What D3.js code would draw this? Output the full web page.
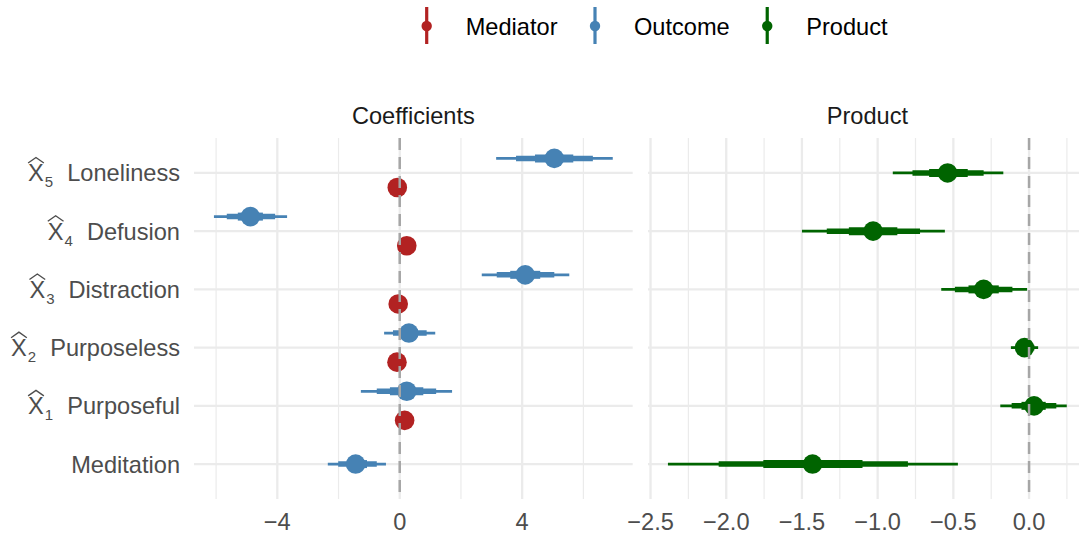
<!DOCTYPE html>
<html>
<head>
<meta charset="utf-8">
<script src="https://cdn.jsdelivr.net/npm/d3@7"></script>
<style>
  body { margin: 0; background: #fff; }
  text { font-family: "Liberation Sans", Arial, sans-serif; }
</style>
</head>
<body>
<div id="chart"></div>
<script>
// categories, bottom to top (index = hat subscript, null = plain label)
const terms = ["Meditation", "Purposeful", "Purposeless", "Distraction", "Defusion", "Loneliness"];
const termIndex = [null, 1, 2, 3, 4, 5];

// Coefficients panel: outcome estimates and 50/80/95% intervals
const outcomeEst = [-1.44, 0.23, 0.30, 4.10, -4.88, 5.05];
const outcome50 = [[-1.73, -1.07], [-0.32, 0.77], [0.01, 0.59], [3.61, 4.59], [-5.29, -4.47], [4.42, 5.67]];
const outcome80 = [[-2.01, -0.75], [-0.75, 1.19], [-0.22, 0.88], [3.17, 5.05], [-5.65, -4.07], [3.80, 6.31]];
const outcome95 = [[-2.35, -0.45], [-1.27, 1.71], [-0.51, 1.16], [2.68, 5.54], [-6.07, -3.68], [3.15, 6.96]];

// Coefficients panel: mediator estimates (none for Meditation)
const mediatorEst = [null, 0.16, -0.09, -0.05, 0.23, -0.08];
const mediator50 = [null, [0.09, 0.23], [-0.16, -0.02], [-0.12, 0.02], [0.16, 0.30], [-0.15, -0.01]];
const mediator80 = [null, [0.02, 0.30], [-0.23, 0.05], [-0.19, 0.09], [0.09, 0.37], [-0.22, 0.06]];
const mediator95 = [null, [-0.06, 0.38], [-0.31, 0.13], [-0.27, 0.17], [0.01, 0.45], [-0.30, 0.14]];

// Product panel
const productEst = [-1.43, 0.033, -0.03, -0.30, -1.03, -0.538];
const product50 = [[-1.755, -1.10], [-0.05, 0.11], [-0.06, 0.01], [-0.40, -0.20], [-1.19, -0.87], [-0.66, -0.405]];
const product80 = [[-2.05, -0.80], [-0.115, 0.18], [-0.085, 0.035], [-0.49, -0.11], [-1.336, -0.72], [-0.77, -0.30]];
const product95 = [[-2.385, -0.47], [-0.19, 0.249], [-0.12, 0.06], [-0.58, -0.013], [-1.50, -0.556], [-0.90, -0.17]];

// axis ticks
const leftMajor = [-4, 0, 4];
const leftMinor = [-6, -2, 2, 6];
const rightMajor = [-2.5, -2, -1.5, -1, -0.5, 0];
const rightMinor = [-2.25, -1.75, -1.25, -0.75, -0.25, 0.25];

const legendNames = ["Mediator", "Outcome", "Product"];
const colors = {Mediator: "#B22222", Outcome: "#4682B4", Product: "#006400"};

const W = 1079, H = 536;
const panelTop = 138, panelBottom = 499;
const fontSize = 23.6;

const svg = d3.select("#chart").append("svg")
    .attr("width", W).attr("height", H);

// y scale shared by both panels
const y = d3.scalePoint().domain(terms).range([panelBottom, panelTop]).padding(0.6);
const dodge = y.step() * 0.25;

// x scales with 5% expansion like ggplot
function expanded(lo, hi) {
  let pad = (hi - lo) * 0.05;
  return [lo - pad, hi + pad];
}
const leftVals = outcome95.flat().concat(mediator95.filter(d => d).flat());
const rightVals = product95.flat();
const xLeft = d3.scaleLinear().domain(expanded(d3.min(leftVals), d3.max(leftVals))).range([194, 632.7]);
const xRight = d3.scaleLinear().domain(expanded(d3.min(rightVals), d3.max(rightVals))).range([648, 1086.7]);

function drawGrid(g, x, major, minor) {
  let [x0, x1] = x.range();
  g.selectAll(".minor").data(minor).enter().append("line")
      .attr("x1", d => x(d)).attr("x2", d => x(d))
      .attr("y1", panelTop).attr("y2", panelBottom)
      .attr("stroke", "#EBEBEB").attr("stroke-width", 1.2);
  g.selectAll(".major").data(major).enter().append("line")
      .attr("x1", d => x(d)).attr("x2", d => x(d))
      .attr("y1", panelTop).attr("y2", panelBottom)
      .attr("stroke", "#EBEBEB").attr("stroke-width", 2.3);
  g.selectAll(".hgrid").data(terms).enter().append("line")
      .attr("x1", x0).attr("x2", x1)
      .attr("y1", d => y(d)).attr("y2", d => y(d))
      .attr("stroke", "#EBEBEB").attr("stroke-width", 2.3);
}

function drawInterval(g, x, cy, est, i95, i80, i50, color) {
  [[i95, 2.8], [i80, 5.5], [i50, 8]].forEach(([iv, w]) => {
    g.append("line")
        .attr("x1", x(iv[0])).attr("x2", x(iv[1]))
        .attr("y1", cy).attr("y2", cy)
        .attr("stroke", color).attr("stroke-width", w);
  });
  g.append("circle")
      .attr("cx", x(est)).attr("cy", cy).attr("r", 9.8)
      .attr("fill", color);
}

function drawZero(g, x) {
  g.append("line")
      .attr("x1", x(0)).attr("x2", x(0))
      .attr("y1", panelTop).attr("y2", panelBottom)
      .attr("stroke", "#A6A6A6").attr("stroke-width", 2.5)
      .attr("stroke-dasharray", "12,7");
}

function drawXAxis(g, x, ticks, fmt) {
  g.selectAll(".tick").data(ticks).enter().append("text")
      .attr("x", d => x(d)).attr("y", 530)
      .attr("text-anchor", "middle")
      .attr("font-size", fontSize).attr("fill", "#4D4D4D")
      .text(d => fmt(d));
}

// left panel: Coefficients
const left = svg.append("g");
drawGrid(left, xLeft, leftMajor, leftMinor);
terms.forEach((t, i) => {
  let hasMed = mediatorEst[i] !== null;
  drawInterval(left, xLeft, y(t) - (hasMed ? dodge : 0), outcomeEst[i],
      outcome95[i], outcome80[i], outcome50[i], colors.Outcome);
  if (hasMed) {
    drawInterval(left, xLeft, y(t) + dodge, mediatorEst[i],
        mediator95[i], mediator80[i], mediator50[i], colors.Mediator);
  }
});
drawZero(left, xLeft);
drawXAxis(left, xLeft, leftMajor, d3.format("d"));

// right panel: Product
const right = svg.append("g");
drawGrid(right, xRight, rightMajor, rightMinor);
terms.forEach((t, i) => {
  drawInterval(right, xRight, y(t), productEst[i],
      product95[i], product80[i], product50[i], colors.Product);
});
drawZero(right, xRight);
drawXAxis(right, xRight, rightMajor, d3.format(".1f"));

// strip titles
[["Coefficients", xLeft], ["Product", xRight]].forEach(([label, x]) => {
  let r = x.range();
  svg.append("text")
      .attr("x", (r[0] + r[1]) / 2).attr("y", 124)
      .attr("text-anchor", "middle")
      .attr("font-size", fontSize).attr("fill", "#1A1A1A")
      .text(label);
});

// y axis labels with hat X and subscript
terms.forEach((t, i) => {
  let label = svg.append("text")
      .attr("x", 180).attr("y", y(t) + 8.5)
      .attr("text-anchor", "end")
      .attr("font-size", fontSize).attr("fill", "#4D4D4D");
  if (termIndex[i] === null) {
    label.text(t);
    return;
  }
  label.append("tspan").text("X");
  label.append("tspan").attr("font-size", 15).attr("dx", 1).attr("dy", 6).text(termIndex[i]);
  label.append("tspan").attr("dx", 14).attr("dy", -6).text(t);

  // the hat over X
  let node = label.node();
  let ext = node.getExtentOfChar(0);
  let top = y(t) + 8.5 - fontSize * 0.716;
  svg.append("path")
      .attr("d", `M${ext.x},${top - 1.5} L${ext.x + ext.width / 2},${top - 7} L${ext.x + ext.width},${top - 1.5}`)
      .attr("fill", "none").attr("stroke", "#4D4D4D").attr("stroke-width", 1.4);
});

// legend
let lx = 426.7;
legendNames.forEach(name => {
  let g = svg.append("g");
  g.append("line")
      .attr("x1", lx).attr("x2", lx).attr("y1", 7).attr("y2", 44)
      .attr("stroke", colors[name]).attr("stroke-width", 3.2);
  g.append("circle").attr("cx", lx).attr("cy", 26).attr("r", 5.2).attr("fill", colors[name]);
  let txt = g.append("text")
      .attr("x", lx + 39).attr("y", 34.5)
      .attr("font-size", fontSize).attr("fill", "#000")
      .text(name);
  lx = lx + 39 + txt.node().getComputedTextLength() + 37.5;
});
</script>
</body>
</html>
